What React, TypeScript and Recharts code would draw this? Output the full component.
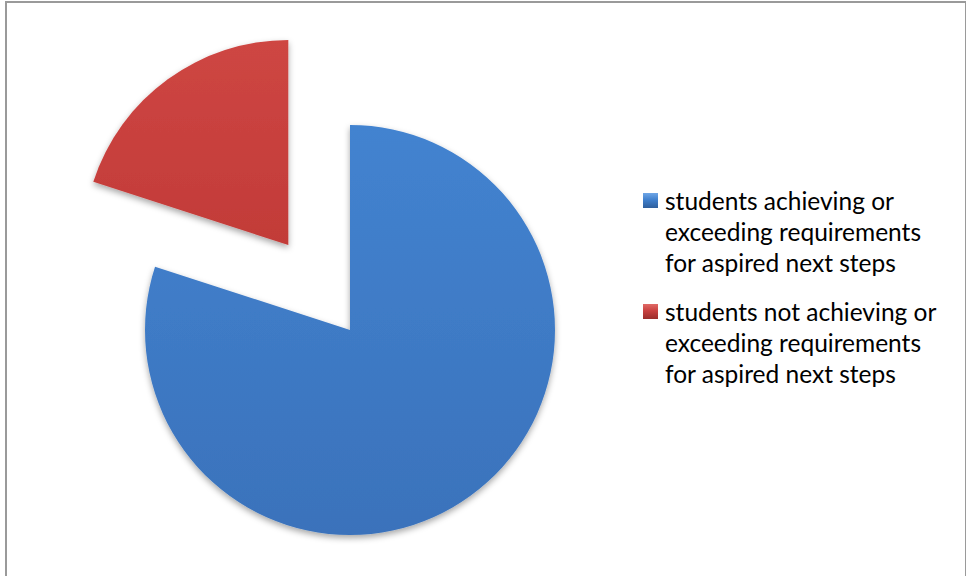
import React from 'react';
import { PieChart, Pie, Cell, Legend } from 'recharts';

const categories = [
  'students achieving or exceeding requirements for aspired next steps',
  'students not achieving or exceeding requirements for aspired next steps',
];
const values = [80, 20];
const legendLines = [
  ['students achieving or', 'exceeding requirements', 'for aspired next steps'],
  ['students not achieving or', 'exceeding requirements', 'for aspired next steps'],
];

const colors = ['#4080CD', '#C94140'];
const gradIds = ['gradBlue', 'gradRed'];
const explodedIndex = 1;

const data = categories.map((name, i) => ({ name, value: values[i] }));

const CX = 350;
const CY = 330;
const R = 205;
const EXPLODE = 105;
const START = 90;
const END = -270;

// mid angle of exploded slice, derived from data
const total = values.reduce((a, b) => a + b, 0);
const before = values.slice(0, explodedIndex).reduce((a, b) => a + b, 0);
const midFrac = (before + values[explodedIndex] / 2) / total;
const midDeg = START + (END - START) * midFrac;
const midRad = (midDeg * Math.PI) / 180;
const dx = EXPLODE * Math.cos(midRad);
const dy = -EXPLODE * Math.sin(midRad);

const LegendContent = () => (
  <div style={{ fontFamily: 'Lato, "Open Sans", sans-serif', fontSize: 24.5, color: '#000', lineHeight: '31px' }}>
    {legendLines.map((lines, i) => (
      <div key={i} style={{ position: 'relative', paddingLeft: 22, marginBottom: i === 0 ? 18 : 0 }}>
        <div
          style={{
            position: 'absolute',
            left: 0,
            top: 8,
            width: 15,
            height: 15,
            background: `linear-gradient(180deg, ${i === 0 ? '#6fa6e6' : '#e06a66'} 0%, ${colors[i]} 45%, ${i === 0 ? '#2f5f9c' : '#9a2e2c'} 100%)`,
          }}
        />
        {lines.map((l, j) => (
          <div key={j} style={{ whiteSpace: 'nowrap' }}>{l}</div>
        ))}
      </div>
    ))}
  </div>
);

export default function App() {
  return (
    <div style={{ position: 'absolute', left: 0, top: 0, width: 966, height: 576, background: '#fff' }}>
      <div
        style={{
          position: 'absolute',
          left: 5,
          top: 1,
          width: 958,
          height: 580,
          border: '2px solid #9a9a9a',
          borderBottom: 'none',
        }}
      />
      <div style={{ position: 'absolute', left: 0, top: 0 }}>
        <PieChart width={966} height={576} margin={{ top: 0, right: 0, bottom: 0, left: 0 }}>
          <defs>
            <linearGradient id="gradBlue" x1="0" y1="0" x2="0" y2="1">
              <stop offset="0%" stopColor="#4383D0" />
              <stop offset="100%" stopColor="#3A72BB" />
            </linearGradient>
            <linearGradient id="gradRed" x1="0" y1="0" x2="0" y2="1">
              <stop offset="0%" stopColor="#CE4643" />
              <stop offset="100%" stopColor="#C23B38" />
            </linearGradient>
            <filter id="shadow" x="-20%" y="-20%" width="140%" height="140%">
              <feDropShadow dx="0" dy="3" stdDeviation="3" floodColor="#000" floodOpacity="0.35" />
            </filter>
          </defs>
          <Pie
            data={data}
            dataKey="value"
            nameKey="name"
            cx={CX}
            cy={CY}
            outerRadius={R}
            innerRadius={0}
            startAngle={START}
            endAngle={END}
            stroke="none"
            isAnimationActive={false}
          >
            {data.map((d, i) => (
              <Cell
                key={i}
                fill={i === explodedIndex ? 'transparent' : `url(#${gradIds[i]})`}
                stroke="none"
                filter={i === explodedIndex ? undefined : 'url(#shadow)'}
              />
            ))}
          </Pie>
          <Pie
            data={data}
            dataKey="value"
            nameKey="name"
            cx={CX + dx}
            cy={CY + dy}
            outerRadius={R}
            innerRadius={0}
            startAngle={START}
            endAngle={END}
            stroke="none"
            legendType="none"
            isAnimationActive={false}
          >
            {data.map((d, i) => (
              <Cell
                key={i}
                fill={i === explodedIndex ? `url(#${gradIds[i]})` : 'transparent'}
                stroke="none"
                filter={i === explodedIndex ? 'url(#shadow)' : undefined}
              />
            ))}
          </Pie>
          <Legend
            content={<LegendContent />}
            wrapperStyle={{ position: 'absolute', left: 643, top: 185, width: 320 }}
          />
        </PieChart>
      </div>
    </div>
  );
}
